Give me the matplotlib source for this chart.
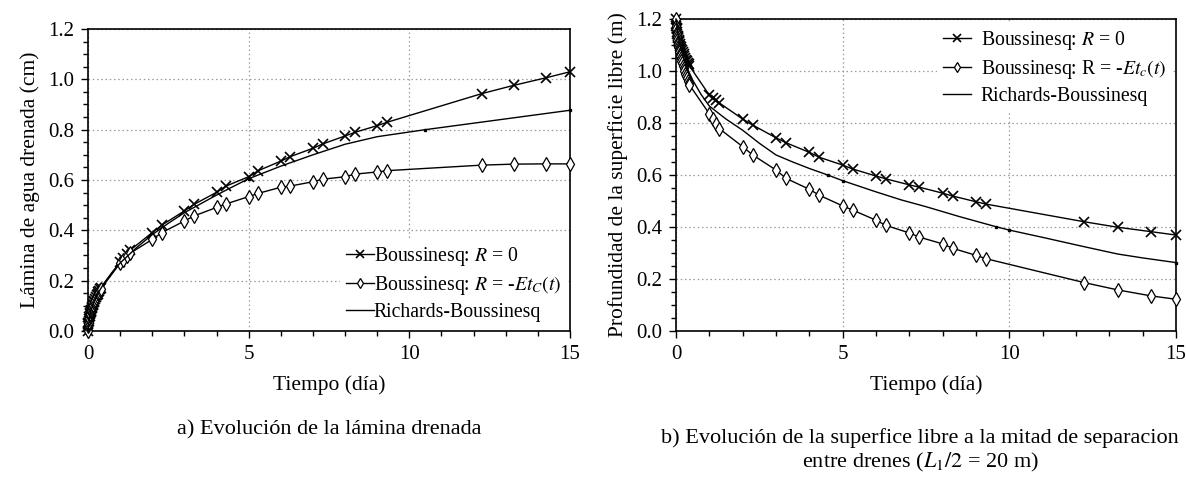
import matplotlib
matplotlib.use("Agg")
import matplotlib.pyplot as plt
from matplotlib.ticker import MultipleLocator, FormatStrFormatter

plt.rcParams["font.family"] = ["Liberation Serif", "DejaVu Serif"]
plt.rcParams["mathtext.fontset"] = "stix"

# tiempos de salida de Boussinesq (día)
t_bous = [0, 0.005, 0.01, 0.015, 0.02, 0.03, 0.04, 0.05, 0.06, 0.07, 0.08, 0.09, 0.1, 0.115,
          0.13, 0.145, 0.16, 0.18, 0.2, 0.225, 0.25, 0.275, 0.3, 0.325, 0.35, 0.375, 0.4,
          1.0, 1.1, 1.2, 1.3,
          2, 2.3, 3, 3.3, 4, 4.3, 5, 5.3, 6, 6.3, 7, 7.3, 8, 8.3, 9, 9.3,
          12.25, 13.25, 14.25, 15]

# a) lámina drenada (cm)
lam_r0 = [0, 0.019, 0.027, 0.033, 0.038, 0.047, 0.054, 0.060, 0.066, 0.071, 0.076, 0.081, 0.085, 0.092,
          0.097, 0.103, 0.108, 0.115, 0.121, 0.128, 0.135, 0.142, 0.148, 0.154, 0.160, 0.165, 0.171,
          0.275, 0.290, 0.305, 0.320,
          0.391, 0.421, 0.477, 0.503, 0.551, 0.576, 0.613, 0.637, 0.675, 0.693, 0.726, 0.743,
          0.775, 0.789, 0.816, 0.829,
          0.943, 0.976, 1.006, 1.030]
lam_etc = [0, 0.019, 0.026, 0.032, 0.037, 0.046, 0.052, 0.058, 0.064, 0.069, 0.074, 0.079, 0.083, 0.089,
           0.094, 0.100, 0.105, 0.112, 0.118, 0.125, 0.132, 0.138, 0.145, 0.150, 0.156, 0.161, 0.167,
           0.270, 0.283, 0.296, 0.308,
           0.364, 0.391, 0.437, 0.457, 0.491, 0.505, 0.534, 0.547, 0.571, 0.576, 0.593, 0.603,
           0.613, 0.623, 0.632, 0.637,
           0.659, 0.663, 0.664, 0.664]
t_rich_a = [0, 0.05, 0.1, 0.2, 0.3, 0.5, 0.75, 1, 1.5, 2, 2.5, 3, 3.5, 4, 4.5, 5,
            6, 7, 8, 9, 10.5, 15]
lam_rich = [0, 0.06, 0.085, 0.12, 0.148, 0.19, 0.233, 0.27, 0.33, 0.383, 0.428, 0.47, 0.505, 0.54, 0.573, 0.605,
            0.655, 0.700, 0.742, 0.772, 0.800, 0.877]

# b) profundidad de la superficie libre (m)
prof_r0 = [1.2, 1.18, 1.172, 1.165, 1.16, 1.151, 1.143, 1.136, 1.13, 1.125, 1.12, 1.114, 1.11, 1.103,
           1.097, 1.091, 1.086, 1.079, 1.073, 1.065, 1.058, 1.051, 1.044, 1.037, 1.031, 1.025, 1.02,
           0.907, 0.897, 0.887, 0.877,
           0.815, 0.792, 0.743, 0.724, 0.687, 0.668, 0.638, 0.623, 0.596, 0.585, 0.562, 0.553,
           0.530, 0.519, 0.497, 0.488,
           0.420, 0.399, 0.382, 0.369]
prof_etc = [1.2, 1.172, 1.16, 1.151, 1.143, 1.131, 1.12, 1.111, 1.102, 1.094, 1.087, 1.08, 1.074, 1.064,
            1.056, 1.048, 1.04, 1.03, 1.021, 1.01, 1.0, 0.99, 0.981, 0.972, 0.963, 0.955, 0.947,
            0.835, 0.815, 0.795, 0.778,
            0.709, 0.677, 0.619, 0.587, 0.545, 0.522, 0.481, 0.465, 0.426, 0.406, 0.377, 0.361,
            0.335, 0.318, 0.291, 0.278,
            0.186, 0.158, 0.135, 0.122]
t_rich_b = [0, 0.05, 0.1, 0.2, 0.3, 0.5, 0.75, 1, 1.5, 2, 2.5, 3, 3.5, 4, 4.55, 5,
            6, 6.76, 7.5, 8.5, 9.6, 10, 11, 12.25, 13.25, 14, 15]
prof_rich = [1.2, 1.15, 1.11, 1.06, 1.02, 0.965, 0.91, 0.865, 0.815, 0.772, 0.722, 0.677, 0.65, 0.625, 0.600, 0.578,
             0.535, 0.504, 0.478, 0.440, 0.401, 0.388, 0.360, 0.324, 0.296, 0.281, 0.263]

LW = 1.0
TICK_FS = 15
LABEL_FS = 15.5
LEG_FS = 14.2
CAP_FS = 16


def style_axes(ax):
    ax.set_xlim(0, 15)
    ax.set_ylim(0, 1.2)
    ax.xaxis.set_major_locator(MultipleLocator(5))
    ax.xaxis.set_minor_locator(MultipleLocator(1))
    ax.yaxis.set_major_locator(MultipleLocator(0.2))
    ax.yaxis.set_minor_locator(MultipleLocator(0.05))
    ax.yaxis.set_major_formatter(FormatStrFormatter("%.1f"))
    ax.tick_params(which="major", direction="out", length=5, width=1.0, labelsize=TICK_FS, pad=5)
    ax.tick_params(which="minor", direction="out", length=3.5, width=1.0)
    for sp in ax.spines.values():
        sp.set_linewidth(1.2)
    ax.grid(which="major", color="#9a9a9a", linestyle=(0, (1.2, 2.2)), linewidth=0.9)
    ax.set_axisbelow(True)
    ax.set_xlabel("Tiempo (día)", fontsize=LABEL_FS, labelpad=8)


def draw(ax, t, y_r0, y_etc, t_rich, y_rich, rich_marks):
    ax.plot(t, y_r0, color="black", lw=LW, marker="x", ms=7.5, mew=1.2, clip_on=False, zorder=3)
    ax.plot(t, y_etc, color="black", lw=LW, marker="d", ms=7, mew=0.9, mfc="white",
            clip_on=False, zorder=3)
    ax.plot(t_rich, y_rich, color="black", lw=LW, clip_on=False, zorder=3)
    # small output dots on the Richards curve
    ax.plot(t_rich, y_rich, ls="none", color="black", marker="s", ms=2, markevery=rich_marks,
            clip_on=False, zorder=3, label="_nolegend_")


def white_frame(leg):
    frame = leg.get_frame()
    frame.set_edgecolor("none")
    frame.set_facecolor("white")
    frame.set_alpha(1)


fig = plt.figure(figsize=(11.86, 4.79), dpi=100)
ax1 = fig.add_axes([0.0742, 0.309, 0.4064, 0.6305])
ax2 = fig.add_axes([0.570, 0.309, 0.4216, 0.6514])

labels_a = ["Boussinesq: $R$ = 0", "Boussinesq: $R$ = -$Et_C(t)$", "Richards-Boussinesq"]
labels_b = ["Boussinesq: $R$ = 0", "Boussinesq: R = -$Et_c(t)$", "Richards-Boussinesq"]

draw(ax1, t_bous, lam_r0, lam_etc, t_rich_a, lam_rich, [15, 20, 21])
style_axes(ax1)
ax1.set_ylabel("Lámina de agua drenada (cm)", fontsize=LABEL_FS, labelpad=6)
leg1 = ax1.legend(ax1.lines[:3], labels_a,
                  loc="lower right", bbox_to_anchor=(1.0, 0.0), fontsize=LEG_FS, frameon=True,
                  handlelength=1.4, handletextpad=0.0, labelspacing=0.3, borderpad=0.3,
                  borderaxespad=0.15, markerscale=0.75)
white_frame(leg1)

draw(ax2, t_bous, prof_r0, prof_etc, t_rich_b, prof_rich, [14, 15, 20, 21, 26])
style_axes(ax2)
ax2.set_ylabel("Profundidad de la superficie libre (m)", fontsize=LABEL_FS, labelpad=6)
leg2 = ax2.legend(ax2.lines[:3], labels_b,
                  loc="upper right", bbox_to_anchor=(1.0, 1.0), fontsize=LEG_FS, frameon=True,
                  handlelength=1.4, handletextpad=0.5, labelspacing=0.3, borderpad=0.3,
                  borderaxespad=0.2, markerscale=0.75)
white_frame(leg2)

fig.text(0.278, 0.102, "a) Evolución de la lámina drenada", ha="center", va="center", fontsize=CAP_FS)
fig.text(0.776, 0.086, "b) Evolución de la superfice libre a la mitad de separacion",
         ha="center", va="center", fontsize=CAP_FS)
fig.text(0.776, 0.035, "entre drenes ($L_1/2$ = 20 m)", ha="center", va="center", fontsize=CAP_FS)

fig.savefig("out.png", dpi=100)
